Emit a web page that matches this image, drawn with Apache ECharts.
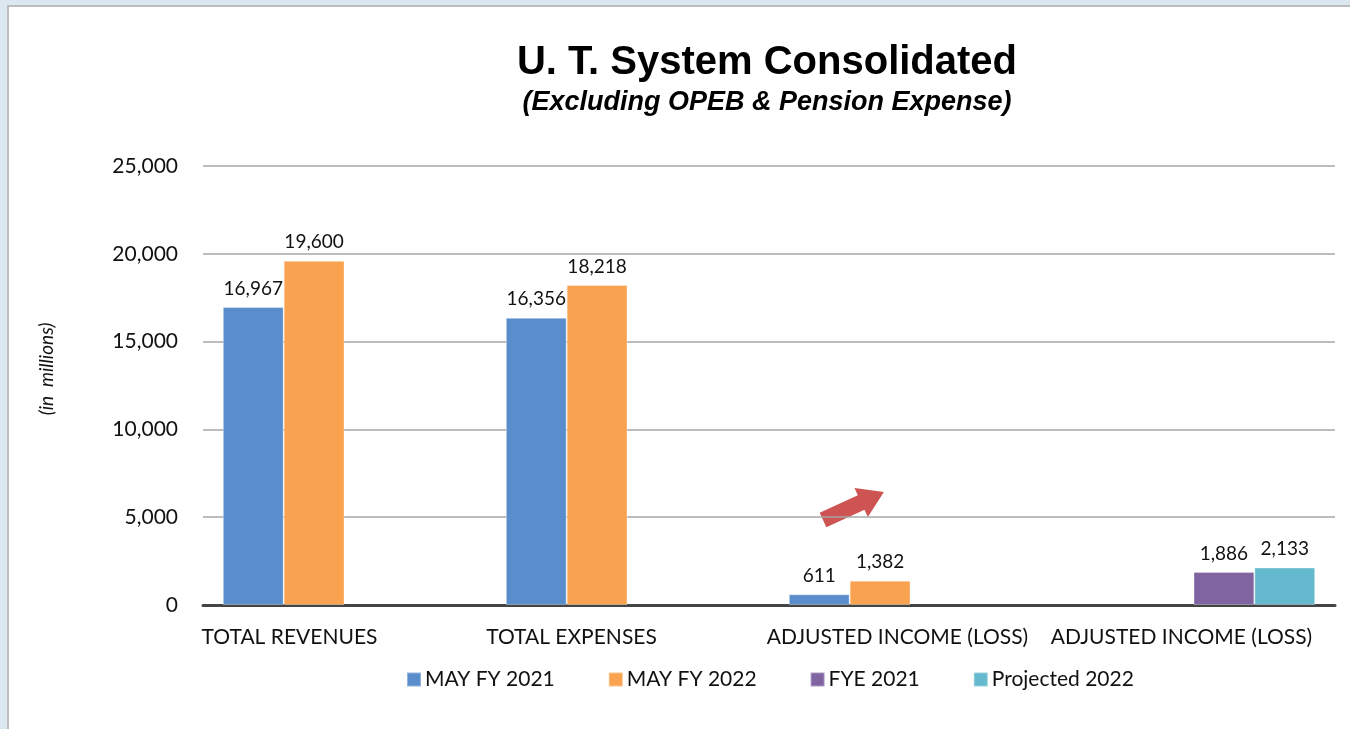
<!DOCTYPE html>
<html>
<head>
<meta charset="utf-8">
<script src="https://cdn.jsdelivr.net/npm/echarts@6/dist/echarts.min.js"></script>
<style>
  html, body { margin: 0; padding: 0; width: 1350px; height: 729px; background: #dce8f0; overflow: hidden; }
  #frame { position: absolute; left: 7px; top: 5px; right: 0; bottom: 0; background: #fff;
           border-left: 2px solid #bdbdbd; border-top: 2px solid #bdbdbd; }
  #chart { position: absolute; left: -9px; top: -7px; width: 1350px; height: 729px; }
</style>
</head>
<body>
<div id="frame"><div id="chart"></div></div>
<script>
// categories and values (in millions)
const categories = ['TOTAL REVENUES', 'TOTAL EXPENSES', 'ADJUSTED INCOME (LOSS)', 'ADJUSTED INCOME (LOSS)'];
const seriesNames = ['MAY FY 2021', 'MAY FY 2022', 'FYE 2021', 'Projected 2022'];
const mayFy2021 = [16967, 16356, 611, null];
const mayFy2022 = [19600, 18218, 1382, null];
const fye2021 = [null, null, null, 1886];
const projected2022 = [null, null, null, 2133];
const colors = ['#5a8dcc', '#f9a24f', '#8064a2', '#65b9ce'];

const labelFont = 'Lato, "Open Sans", sans-serif';
// the category labels sit a little left of their bar groups
const labelShift = [110, 112, 26, 24];

function makeSeries(name, data, color) {
    return {
        name: name,
        type: 'bar',
        data: data,
        barGap: 0,
        barCategoryGap: '14%',
        itemStyle: { color: color, borderColor: 'rgba(255,255,255,0.35)', borderWidth: 1 },
        label: {
            show: true,
            position: 'top',
            distance: 9,
            color: '#111',
            fontSize: 19,
            fontFamily: labelFont,
            formatter: p => p.value == null ? '' : p.value.toLocaleString('en-US')
        }
    };
}

const rich = {};
labelShift.forEach((s, i) => {
    rich['c' + i] = { fontSize: 21, fontFamily: labelFont, color: '#111', padding: [0, s, 0, 0] };
});

const chart = echarts.init(document.getElementById('chart'));
chart.setOption({
    animation: false,
    title: {
        text: 'U. T. System Consolidated',
        subtext: '(Excluding OPEB & Pension Expense)',
        left: 762,
        textAlign: 'center',
        top: 38,
        itemGap: 6,
        textStyle: { fontFamily: '"Liberation Sans", Arial, sans-serif', fontSize: 40, fontWeight: 'bold', color: '#000' },
        subtextStyle: { fontFamily: '"Liberation Sans", Arial, sans-serif', fontSize: 27, fontWeight: 'bold', fontStyle: 'italic', color: '#000' }
    },
    legend: {
        data: seriesNames,
        bottom: 34,
        left: 401,
        itemWidth: 14,
        itemHeight: 14,
        itemGap: 53,
        icon: 'rect',
        textStyle: { fontSize: 21, fontFamily: labelFont, color: '#111', padding: [0, 0, 0, -1] }
    },
    grid: { left: 203, right: 15, top: 166, bottom: 124 },
    xAxis: {
        type: 'category',
        data: categories,
        axisTick: { show: false },
        axisLine: { lineStyle: { color: '#444', width: 3 } },
        axisLabel: {
            margin: 22,
            interval: 0,
            formatter: (v, i) => '{c' + i + '|' + v + '}',
            rich: rich
        }
    },
    yAxis: {
        type: 'value',
        min: 0,
        max: 25000,
        interval: 5000,
        axisLabel: {
            fontSize: 21, fontFamily: labelFont, color: '#111', margin: 25,
            formatter: v => v.toLocaleString('en-US')
        },
        splitLine: { lineStyle: { color: '#a6a6a6', width: 1.5 } }
    },
    graphic: [{
        type: 'text',
        x: 47, y: 369,
        rotation: Math.PI / 2,
        style: {
            text: '(in  millions)',
            fontSize: 19, fontStyle: 'italic', fontFamily: labelFont, fill: '#111',
            align: 'center', verticalAlign: 'middle'
        }
    }, {
        type: 'polygon',
        x: 823, y: 520,
        rotation: 0.43,
        shape: { points: [[0, -8], [42, -8], [42, -16], [67, 0], [42, 16], [42, 8], [0, 8]] },
        style: { fill: '#cd5452' }
    }],
    series: [
        makeSeries(seriesNames[0], mayFy2021, colors[0]),
        makeSeries(seriesNames[1], mayFy2022, colors[1]),
        makeSeries(seriesNames[2], fye2021, colors[2]),
        makeSeries(seriesNames[3], projected2022, colors[3])
    ]
});
</script>
</body>
</html>
